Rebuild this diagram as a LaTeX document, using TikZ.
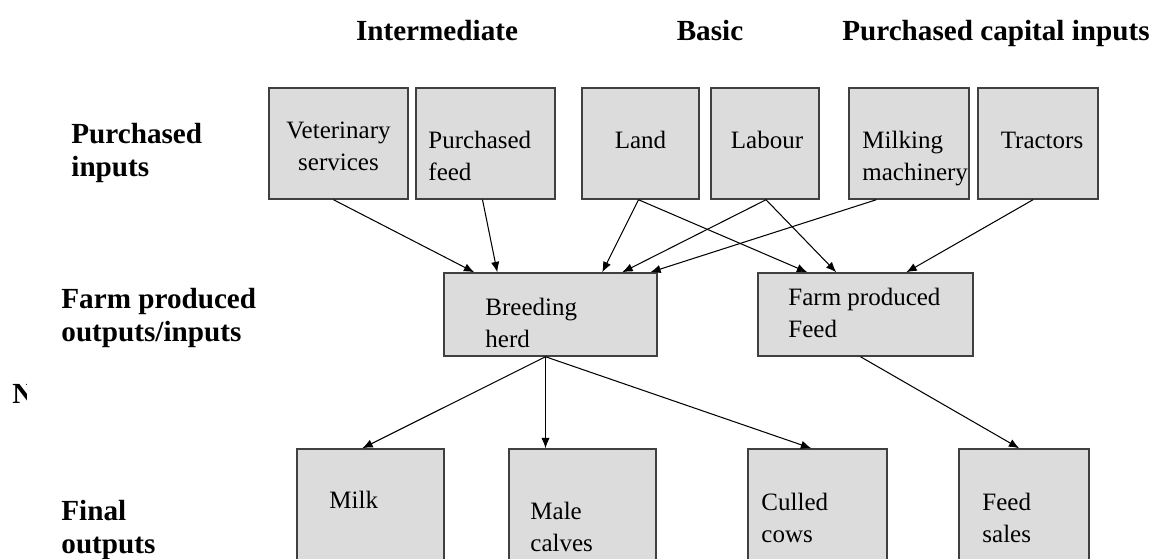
\documentclass[tikz,border=0pt]{standalone}
\usepackage{fontspec}
\setmainfont{Liberation Serif}
\usetikzlibrary{arrows.meta,calc,fit}
\definecolor{boxgray}{RGB}{220,220,220}

\begin{document}
\begin{tikzpicture}[x=0.48pt, y=-0.48pt,
        box/.style={draw=black!75, line width=0.7pt, fill=boxgray, inner sep=0pt},
        txt/.style={font=\fontsize{12}{15}\selectfont, inner sep=0pt},
        head/.style={font=\fontsize{14}{15.8}\selectfont\bfseries, inner sep=0pt},
        arr/.style={-{Latex[length=5pt,width=4pt]}, line width=0.5pt}]
    \useasboundingbox (0,0) rectangle (1155,558);

    % column and row headings
    \node[head, anchor=base] (h-inter) at (437,40) {Intermediate};
    \node[head, anchor=base] (h-basic) at (710,40) {Basic};
    \node[head, anchor=base] (h-capital) at (996,40) {Purchased capital inputs};
    \node[head, anchor=north west, align=left] (r-purch) at (71,123) {Purchased\\inputs};
    \node[head, anchor=north west, align=left] (r-farm) at (61,288) {Farm produced\\outputs/inputs};
    \node[head, anchor=north west, align=left] (r-final) at (61,500) {Final\\outputs};
    \begin{scope}
        \clip (0,370) rectangle (26,412);
        \node[head, anchor=base west] (r-cut) at (12,403) {N};
    \end{scope}

    % purchased inputs
    \node[box, fit={(269,88) (408,199)}] (vet) {};
    \node[box, fit={(416,88) (555,199)}] (pfeed) {};
    \node[box, fit={(582,88) (699,199)}] (land) {};
    \node[box, fit={(711,88) (819,199)}] (labour) {};
    \node[box, fit={(849,88) (969,199)}] (milking) {};
    \node[box, fit={(978,88) (1098,199)}] (tractors) {};
    \node[txt, anchor=north, align=center] (vet-t) at (338.5,122) {Veterinary\\services};
    \node[txt, anchor=north west, align=left] (pfeed-t) at (428,131) {Purchased\\feed};
    \node[txt, anchor=base] (land-t) at (640.5,148) {Land};
    \node[txt, anchor=base] (labour-t) at (767,148) {Labour};
    \node[txt, anchor=north west, align=left] (milking-t) at (862,131) {Milking\\machinery};
    \node[txt, anchor=base] (tractors-t) at (1042,148) {Tractors};

    % farm produced outputs/inputs
    \node[box, fit={(444,273) (657,356)}] (herd) {};
    \node[box, fit={(758,273) (973,356)}] (ffeed) {};
    \node[txt, anchor=north west, align=left] (herd-t) at (485,298) {Breeding\\herd};
    \node[txt, anchor=north west, align=left] (ffeed-t) at (788,288) {Farm produced\\Feed};

    % final outputs
    \node[box, fit={(297,449) (444,600)}] (milk) {};
    \node[box, fit={(509,449) (656,600)}] (calves) {};
    \node[box, fit={(748,449) (887,600)}] (culled) {};
    \node[box, fit={(959,449) (1089,600)}] (sales) {};
    \node[txt, anchor=base west] (milk-t) at (329,508) {Milk};
    \node[txt, anchor=north west, align=left] (calves-t) at (530,502) {Male\\calves};
    \node[txt, anchor=north west, align=left] (culled-t) at (761,493) {Culled\\cows};
    \node[txt, anchor=north west, align=left] (sales-t) at (982,493) {Feed\\sales};

    % inputs into the herd and the feed
    \draw[arr] ($(vet.south)+(-5,0)$) -- ($(herd.north west)+(31,0)$);
    \draw[arr] ($(pfeed.south)+(-3,0)$) -- ($(herd.north west)+(54,0)$);
    \draw[arr] ($(land.south)+(-2,0)$) -- ($(herd.north west)+(159,0)$);
    \draw[arr] ($(land.south)+(-2,0)$) -- ($(ffeed.north west)+(50,0)$);
    \draw[arr] ($(labour.south)+(1,0)$) -- ($(herd.north west)+(179,0)$);
    \draw[arr] ($(labour.south)+(1,0)$) -- ($(ffeed.north west)+(79,0)$);
    \draw[arr] ($(milking.south west)+(28,0)$) -- ($(herd.north west)+(207,0)$);
    \draw[arr] ($(tractors.south)+(-5,0)$) -- ($(ffeed.north west)+(149,0)$);

    % outputs
    \coordinate (herd-out) at ($(herd.south)+(-5,0)$);
    \draw[arr] (herd-out) -- ($(milk.north west)+(66,0)$);
    \draw[arr] (herd-out) -- (herd-out |- calves.north);
    \draw[arr] (herd-out) -- ($(culled.north west)+(64,0)$);
    \draw[arr] ($(ffeed.south)+(-5,0)$) -- ($(sales.north west)+(61,0)$);
\end{tikzpicture}
\end{document}
